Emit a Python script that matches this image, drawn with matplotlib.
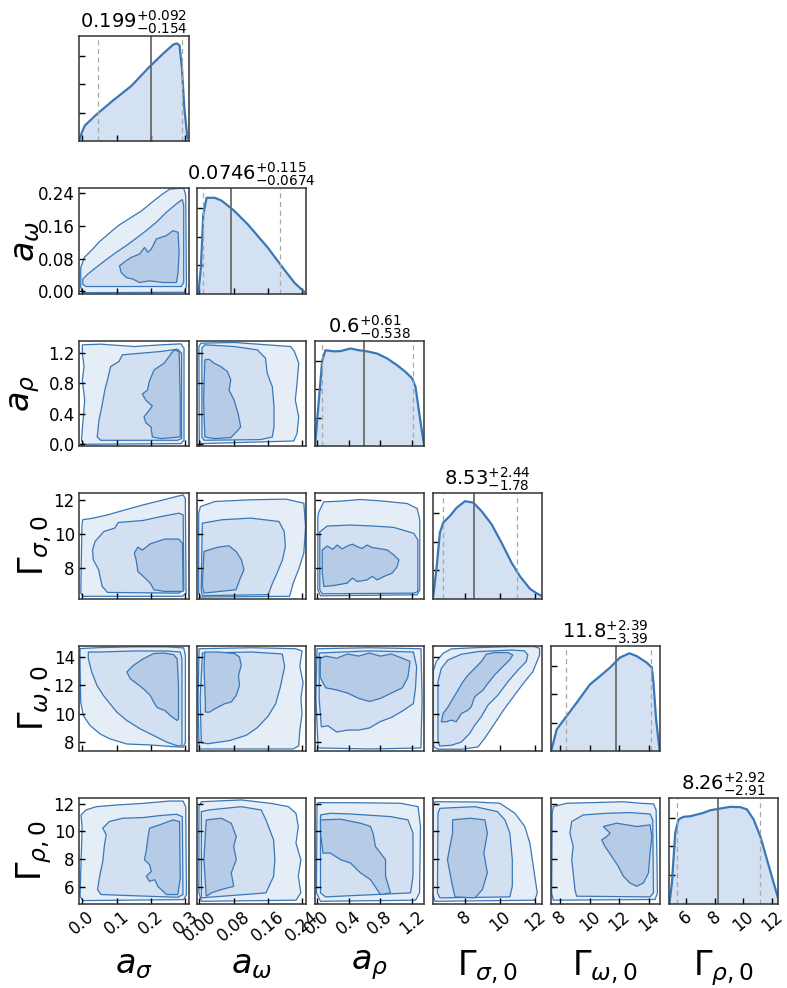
import numpy as np
import matplotlib.pyplot as plt

plt.rcParams['font.family'] = ['DejaVu Sans']
plt.rcParams['mathtext.fontset'] = 'dejavusans'

# parameter names, plot ranges and ticks
labels = [r'$a_\sigma$', r'$a_\omega$', r'$a_\rho$',
          r'$\Gamma_{\sigma,0}$', r'$\Gamma_{\omega,0}$', r'$\Gamma_{\rho,0}$']
ranges = [(-0.009, 0.309), (-0.006, 0.251), (-0.026, 1.358),
          (6.18, 12.41), (7.36, 14.78), (4.77, 12.43)]
ticks = [[0.0, 0.1, 0.2, 0.3], [0.0, 0.08, 0.16, 0.24], [0.0, 0.4, 0.8, 1.2],
         [8, 10, 12], [8, 10, 12, 14], [6, 8, 10, 12]]
tick_labels = [['0.0', '0.1', '0.2', '0.3'], ['0.00', '0.08', '0.16', '0.24'],
               ['0.0', '0.4', '0.8', '1.2'], ['8', '10', '12'],
               ['8', '10', '12', '14'], ['6', '8', '10', '12']]

# median and 68% interval of each marginal
medians = [0.199, 0.0746, 0.6, 8.53, 11.8, 8.26]
err_hi = [0.092, 0.115, 0.61, 2.44, 2.39, 2.92]
err_lo = [0.154, 0.0674, 0.538, 1.78, 3.39, 2.91]

# 1D marginal densities (arbitrary units)
as_x = [-0.009, -0.002, 0.008, 0.042, 0.090, 0.144, 0.194, 0.236, 0.265, 0.275, 0.283, 0.290, 0.297, 0.306]
as_p = [0, 0.28, 0.56, 0.95, 1.44, 1.96, 2.60, 3.09, 3.40, 3.44, 3.37, 2.56, 1.16, 0.11]
aw_x = [-0.0027, 0.0033, 0.0089, 0.0167, 0.036, 0.052, 0.0805, 0.114, 0.161, 0.196, 0.223, 0.246]
aw_p = [0, 0.91, 2.77, 3.37, 3.37, 3.27, 2.93, 2.43, 1.61, 0.91, 0.39, 0.07]
ar_x = [-0.026, -0.017, 0.025, 0.068, 0.109, 0.214, 0.299, 0.425, 0.53, 0.636, 0.763, 0.889,
        1.016, 1.12, 1.205, 1.247, 1.289, 1.332, 1.358]
ar_p = [0, 0.21, 1.61, 3.02, 3.37, 3.33, 3.34, 3.43, 3.37, 3.33, 3.25, 3.08,
        2.84, 2.61, 2.38, 2.08, 1.26, 0.45, 0]
gs_x = [6.21, 6.41, 6.59, 6.78, 7.16, 7.54, 8.02, 8.49, 8.96, 9.53, 10.1, 10.67, 11.14, 11.71, 12.09, 12.41]
gs_p = [0.09, 1.14, 2.32, 2.67, 2.90, 3.19, 3.42, 3.37, 3.07, 2.61, 1.96, 1.26, 0.79, 0.35, 0.19, 0.09]
gw_x = [7.43, 7.77, 8.45, 9.13, 10.03, 10.71, 11.39, 12.06, 12.7, 13.2, 13.88, 14.22, 14.33, 14.51, 14.74]
gw_p = [0.06, 0.76, 1.23, 1.70, 2.34, 2.63, 2.93, 3.28, 3.43, 3.33, 3.10, 2.93, 2.40, 1.11, 0.06]
gr_x = [4.84, 5.01, 5.24, 5.47, 5.82, 6.29, 6.76, 7.22, 7.69, 8.39, 9.09, 9.79, 10.26, 10.72,
        11.19, 11.66, 12.12, 12.43]
gr_p = [0.02, 0.73, 2.48, 2.95, 3.04, 3.06, 3.12, 3.18, 3.27, 3.33, 3.39, 3.38, 3.30, 2.95,
        2.36, 1.54, 0.73, 0.20]

# 2D credible-region outlines [outer, middle, inner], each a list of (x, y)
aw_as = [
    [(-0.004, 0.009), (-0.004, 0.058), (0.0066, 0.083), (0.026, 0.099), (0.050, 0.121), (0.079, 0.142),
     (0.108, 0.162), (0.138, 0.178), (0.172, 0.196), (0.201, 0.216), (0.230, 0.235), (0.254, 0.249),
     (0.295, 0.252), (0.301, 0.234), (0.303, 0.013), (0.297, -0.002), (0.002, -0.003)],
    [(0.002, 0.030), (0.0163, 0.0421), (0.0406, 0.0584), (0.0697, 0.0772), (0.0989, 0.0952), (0.128, 0.1115),
     (0.157, 0.1295), (0.186, 0.148), (0.216, 0.169), (0.245, 0.193), (0.274, 0.2135), (0.291, 0.224),
     (0.295, 0.2094), (0.295, 0.0217), (0.288, 0.012), (0.0114, 0.012), (0.002, 0.0177)],
    [(0.1086, 0.0625), (0.128, 0.0748), (0.1426, 0.083), (0.167, 0.091), (0.1815, 0.1074), (0.1912, 0.0952),
     (0.201, 0.1033), (0.2155, 0.1278), (0.2447, 0.136), (0.264, 0.148), (0.2787, 0.144), (0.2816, 0.0952),
     (0.2787, 0.0462), (0.274, 0.0217), (0.235, 0.0217), (0.196, 0.0258), (0.167, 0.0217), (0.1475, 0.0299),
     (0.128, 0.034), (0.1135, 0.0462)],
]
ar_as = [
    [(0.0007, 1.305), (0.054, 1.314), (0.151, 1.283), (0.229, 1.305), (0.287, 1.318), (0.296, 1.261),
     (0.296, 0.053), (0.287, 0.009), (0.0056, 0.0004), (-0.002, 0.053), (0.0036, 0.361), (0.0075, 0.580),
     (0.0007, 0.844), (0.0056, 1.02), (0.0007, 1.195)],
    [(0.117, 1.174), (0.170, 1.195), (0.229, 1.218), (0.277, 1.248), (0.289, 1.195), (0.289, 0.075),
     (0.277, 0.053), (0.054, 0.053), (0.044, 0.097), (0.049, 0.317), (0.059, 0.536), (0.066, 0.712),
     (0.0735, 0.844), (0.083, 1.02), (0.107, 1.086)],
    [(0.195, 0.822), (0.209, 0.976), (0.238, 1.064), (0.267, 1.239), (0.282, 1.217), (0.285, 0.580),
     (0.285, 0.097), (0.229, 0.075), (0.204, 0.097), (0.200, 0.229), (0.185, 0.282), (0.180, 0.361),
     (0.195, 0.449), (0.204, 0.501), (0.185, 0.580), (0.175, 0.659), (0.190, 0.712)],
]
ar_aw = [
    [(0.0033, 1.327), (0.0812, 1.336), (0.159, 1.305), (0.214, 1.283), (0.223, 1.217), (0.233, 1.064),
     (0.229, 0.800), (0.225, 0.580), (0.233, 0.361), (0.229, 0.141), (0.2215, 0.044), (0.0033, 0.009),
     (-0.0005, 0.053), (-0.0013, 1.283)],
    [(0.0127, 1.305), (0.0812, 1.283), (0.136, 1.239), (0.155, 1.13), (0.159, 0.932), (0.171, 0.756),
     (0.175, 0.492), (0.175, 0.229), (0.171, 0.097), (0.1436, 0.062), (0.0111, 0.053), (0.0057, 0.097),
     (0.0057, 1.261)],
    [(0.0127, 1.108), (0.0228, 1.116), (0.0345, 1.064), (0.050, 1.02), (0.0657, 0.954), (0.0735, 0.844),
     (0.0696, 0.712), (0.0812, 0.580), (0.0906, 0.405), (0.0968, 0.229), (0.089, 0.176), (0.0735, 0.088),
     (0.0345, 0.075), (0.0127, 0.097), (0.0096, 0.580)],
]
gs_as = [
    [(0.0014, 10.84), (0.0324, 10.94), (0.0739, 11.13), (0.1257, 11.43), (0.1775, 11.72), (0.229, 11.98),
     (0.281, 12.25), (0.2935, 12.31), (0.2997, 12.11), (0.302, 6.51), (0.2914, 6.32), (0.0014, 6.32),
     (-0.0038, 6.51), (-0.0007, 10.44)],
    [(0.0376, 9.56), (0.0635, 10.15), (0.0946, 10.35), (0.105, 10.68), (0.1775, 10.80), (0.229, 11.03),
     (0.281, 11.23), (0.2935, 11.13), (0.2956, 6.71), (0.281, 6.51), (0.0739, 6.55), (0.0583, 6.91),
     (0.048, 7.89), (0.0324, 8.48), (0.0304, 9.07)],
    [(0.162, 9.23), (0.175, 9.05), (0.198, 9.42), (0.240, 9.70), (0.281, 9.70), (0.2914, 9.46), (0.2935, 6.61),
     (0.240, 6.61), (0.2086, 6.71), (0.198, 7.10), (0.1775, 7.50), (0.162, 7.79), (0.1568, 8.48),
     (0.1516, 8.87)],
]
gs_aw = [
    [(0.0024, 11.62), (0.0359, 11.92), (0.1196, 12.02), (0.203, 12.06), (0.245, 11.82), (0.249, 10.44),
     (0.245, 8.87), (0.2325, 7.89), (0.220, 7.10), (0.2116, 6.32), (0.0024, 6.28), (-0.0018, 6.51),
     (-0.0018, 11.23)],
    [(0.0066, 10.64), (0.0526, 10.84), (0.1196, 10.94), (0.1865, 10.74), (0.199, 10.15), (0.2016, 9.27),
     (0.195, 8.48), (0.182, 7.69), (0.170, 7.01), (0.1614, 6.42), (0.0066, 6.36), (0.004, 6.71)],
    [(0.0107, 8.97), (0.0442, 9.23), (0.0693, 9.30), (0.086, 8.97), (0.0986, 8.48), (0.1045, 7.89),
     (0.0944, 7.30), (0.086, 6.71), (0.0107, 6.51), (0.0066, 6.91)],
]
gs_ar = [
    [(0.025, 11.31), (0.088, 11.90), (0.299, 11.94), (0.552, 12.04), (0.846, 11.94), (1.142, 11.80),
     (1.268, 11.51), (1.301, 10.82), (1.301, 6.70), (1.268, 6.41), (0.046, 6.35), (0.012, 6.70),
     (0.012, 11.02)],
    [(0.037, 10.13), (0.131, 10.47), (0.425, 10.53), (0.72, 10.47), (0.973, 10.39), (1.226, 10.04),
     (1.276, 9.65), (1.276, 6.60), (1.226, 6.51), (0.068, 6.47), (0.037, 6.70)],
    [(0.068, 9.06), (0.131, 9.29), (0.20, 9.10), (0.257, 9.35), (0.32, 9.12), (0.384, 9.29), (0.45, 9.40),
     (0.51, 9.25), (0.57, 9.15), (0.636, 9.35), (0.70, 9.20), (0.763, 9.16), (0.889, 9.06), (0.973, 8.76),
     (1.036, 8.47), (1.016, 8.08), (0.952, 7.69), (0.846, 7.49), (0.763, 7.29), (0.70, 7.50), (0.636, 7.29),
     (0.51, 7.19), (0.45, 7.40), (0.384, 7.10), (0.214, 6.96), (0.088, 6.90), (0.068, 7.69)],
]
gw_as = [
    [(-0.006, 14.57), (0.052, 14.64), (0.149, 14.69), (0.247, 14.69), (0.295, 14.62), (0.300, 14.10),
     (0.300, 7.98), (0.293, 7.63), (0.266, 7.67), (0.198, 7.79), (0.130, 7.86), (0.081, 8.22),
     (0.052, 8.57), (0.023, 9.16), (0.0035, 9.86), (-0.004, 10.81), (-0.006, 13.39)],
    [(0.018, 14.33), (0.052, 14.33), (0.149, 14.40), (0.247, 14.40), (0.285, 14.33), (0.290, 13.86),
     (0.290, 7.74), (0.276, 7.74), (0.247, 7.98), (0.208, 8.45), (0.169, 8.92), (0.130, 9.51),
     (0.101, 10.10), (0.081, 10.69), (0.062, 11.27), (0.043, 11.98), (0.028, 12.92), (0.018, 13.86)],
    [(0.130, 12.92), (0.149, 13.39), (0.178, 13.86), (0.208, 14.22), (0.237, 14.26), (0.266, 14.14),
     (0.276, 13.86), (0.280, 12.0), (0.280, 9.63), (0.276, 9.51), (0.256, 9.86), (0.241, 10.21),
     (0.227, 10.33), (0.217, 10.45), (0.208, 10.81), (0.198, 11.27), (0.178, 11.75), (0.159, 12.10),
     (0.140, 12.45)],
]
gw_aw = [
    [(-0.0009, 14.56), (0.1225, 14.63), (0.2253, 14.56), (0.2407, 14.41), (0.2356, 13.30), (0.2433, 12.18),
     (0.2382, 11.07), (0.2407, 9.96), (0.2356, 8.84), (0.233, 7.73), (0.2202, 7.51), (-0.0009, 7.51),
     (-0.0034, 11.07)],
    [(0.0069, 14.26), (0.1225, 14.33), (0.1945, 14.19), (0.2, 13.3), (0.1893, 11.81), (0.179, 10.70),
     (0.161, 9.81), (0.135, 8.99), (0.1097, 8.47), (0.0711, 8.10), (0.0197, 7.88), (0.0043, 7.95),
     (0.0017, 11.07)],
    [(0.0122, 14.33), (0.0435, 14.33), (0.0823, 14.22), (0.094, 13.98), (0.098, 13.39), (0.0917, 12.69),
     (0.094, 11.98), (0.0863, 11.27), (0.0746, 10.81), (0.059, 10.69), (0.0435, 10.45), (0.0356, 10.33),
     (0.024, 10.10), (0.0139, 10.10), (0.0139, 10.81), (0.0108, 13.16)],
]
gw_ar = [
    [(0.002, 14.56), (0.666, 14.63), (1.316, 14.56), (1.33, 11.07), (1.316, 7.58), (0.666, 7.51),
     (0.016, 7.58), (-0.012, 11.07)],
    [(0.029, 14.26), (0.666, 14.41), (1.22, 14.33), (1.261, 13.30), (1.247, 11.81), (1.22, 10.70),
     (1.081, 10.18), (0.943, 9.73), (0.804, 9.44), (0.666, 8.99), (0.528, 8.84), (0.389, 8.84),
     (0.251, 8.70), (0.14, 9.14), (0.057, 9.07), (0.029, 11.07)],
    [(0.043, 13.89), (0.112, 14.04), (0.251, 13.89), (0.389, 14.19), (0.528, 14.04), (0.666, 14.26),
     (0.804, 14.04), (0.943, 14.19), (1.081, 13.89), (1.178, 13.67), (1.15, 12.55), (1.081, 11.81),
     (0.943, 11.44), (0.804, 11.07), (0.666, 10.85), (0.528, 11.07), (0.389, 11.44), (0.251, 11.66),
     (0.112, 11.81), (0.043, 12.55)],
]
gw_gs = [
    [(6.20, 8.0), (6.20, 12.95), (6.38, 13.65), (6.77, 14.24), (7.24, 14.55), (8.75, 14.64), (10.65, 14.71),
     (11.98, 14.71), (12.26, 14.59), (12.26, 14.12), (11.88, 12.95), (11.41, 12.24), (10.84, 11.30),
     (10.27, 10.35), (9.89, 9.65), (9.51, 8.94), (9.13, 8.24), (8.75, 7.65), (7.81, 7.49), (6.48, 7.49),
     (6.25, 7.65)],
    [(6.48, 8.0), (6.48, 12.24), (6.67, 13.18), (7.05, 13.77), (7.81, 14.17), (8.75, 14.36), (9.70, 14.41),
     (10.65, 14.47), (11.41, 14.41), (11.59, 14.12), (11.50, 13.65), (11.03, 13.06), (10.46, 12.24),
     (9.89, 11.30), (9.32, 10.59), (8.94, 9.77), (8.57, 9.18), (8.28, 8.59), (7.81, 8.0), (7.24, 7.77),
     (6.58, 7.72)],
    [(6.67, 9.42), (6.77, 10.0), (7.05, 10.47), (7.33, 11.06), (7.62, 11.65), (7.90, 12.24), (8.19, 12.71),
     (8.57, 13.18), (8.94, 13.65), (9.23, 14.17), (9.70, 14.29), (10.46, 14.29), (10.74, 14.12),
     (10.55, 13.77), (10.17, 13.30), (9.70, 12.71), (9.32, 12.12), (9.04, 11.65), (8.57, 11.18),
     (8.37, 10.47), (8.19, 10.24), (7.81, 10.0), (7.52, 9.42), (7.24, 9.54), (6.95, 9.42)],
]
gr_as = [
    [(-0.003, 11.20), (0.011, 11.56), (0.041, 11.80), (0.099, 11.92), (0.177, 12.04), (0.254, 12.21),
     (0.293, 12.21), (0.301, 11.80), (0.303, 5.42), (0.295, 5.05), (0.002, 4.98), (-0.006, 5.30),
     (-0.003, 7.83), (0.0, 10.24)],
    [(0.060, 10.24), (0.079, 10.72), (0.118, 10.96), (0.177, 11.01), (0.225, 11.15), (0.274, 11.25),
     (0.291, 11.08), (0.293, 5.42), (0.278, 5.22), (0.055, 5.42), (0.045, 5.78), (0.050, 6.62),
     (0.060, 7.83), (0.065, 9.03), (0.070, 9.76)],
    [(0.196, 10.24), (0.225, 10.48), (0.264, 10.84), (0.283, 10.72), (0.285, 6.62), (0.278, 5.42),
     (0.245, 5.42), (0.220, 6.02), (0.211, 6.50), (0.196, 6.38), (0.186, 6.74), (0.201, 7.10),
     (0.196, 7.59), (0.181, 7.95), (0.186, 8.55), (0.191, 9.52)],
]
gr_aw = [
    [(0.0045, 12.16), (0.098, 12.29), (0.168, 12.04), (0.209, 11.80), (0.2265, 11.32), (0.232, 10.36),
     (0.2265, 9.15), (0.238, 7.95), (0.232, 6.74), (0.238, 5.54), (0.2265, 5.01), (0.0045, 4.93),
     (-0.0013, 5.54), (-0.0013, 11.80)],
    [(0.022, 11.56), (0.098, 11.80), (0.145, 11.56), (0.156, 10.84), (0.174, 9.39), (0.177, 7.95),
     (0.174, 6.74), (0.156, 5.54), (0.0045, 5.18), (0.0045, 11.44)],
    [(0.016, 10.84), (0.0512, 10.96), (0.0746, 10.60), (0.0863, 9.63), (0.0804, 8.91), (0.0863, 7.95),
     (0.0746, 6.99), (0.0804, 6.02), (0.0512, 5.78), (0.0279, 5.54), (0.016, 5.30), (0.0104, 7.95)],
]
gr_ar = [
    [(0.015, 12.09), (0.425, 12.09), (1.057, 12.05), (1.279, 11.80), (1.310, 10.36), (1.298, 5.54),
     (1.247, 5.01), (0.046, 4.93), (-0.005, 5.54), (0.002, 11.80)],
    [(0.046, 11.20), (0.172, 11.32), (0.425, 11.27), (0.931, 11.08), (1.152, 10.84), (1.215, 9.88),
     (1.215, 6.74), (1.184, 5.54), (0.109, 5.25), (0.046, 5.54)],
    [(0.046, 10.84), (0.299, 10.89), (0.552, 10.60), (0.678, 10.36), (0.710, 9.88), (0.741, 8.91),
     (0.868, 7.95), (0.868, 6.74), (0.931, 5.54), (0.804, 5.42), (0.678, 6.50), (0.552, 6.99),
     (0.425, 7.71), (0.299, 7.95), (0.172, 8.43), (0.078, 8.43), (0.046, 9.88)],
]
gr_gs = [
    [(6.31, 12.16), (8.58, 12.14), (10.0, 12.05), (10.86, 11.32), (11.42, 10.36), (11.71, 9.15),
     (11.85, 7.95), (11.99, 6.74), (12.13, 5.54), (11.99, 5.01), (6.31, 4.93), (6.17, 5.54), (6.20, 11.80)],
    [(6.59, 11.68), (8.58, 11.80), (9.86, 11.44), (10.29, 10.84), (10.57, 9.88), (10.71, 7.95),
     (10.71, 6.02), (10.57, 5.25), (6.59, 5.18), (6.45, 5.54), (6.48, 11.32)],
    [(7.31, 10.84), (8.30, 10.96), (9.15, 10.84), (9.29, 9.88), (9.09, 8.43), (9.29, 6.99), (9.01, 5.78),
     (8.58, 5.18), (7.45, 5.25), (7.31, 6.02), (7.16, 6.99), (7.02, 7.95), (7.16, 8.91), (7.31, 9.88)],
]
gr_gw = [
    [(7.54, 11.80), (8.45, 12.05), (10.03, 12.09), (12.29, 12.16), (13.42, 12.05), (14.33, 12.0),
     (14.51, 11.56), (14.56, 8.43), (14.60, 5.54), (14.44, 5.06), (7.54, 5.01), (7.43, 5.54), (7.47, 11.32)],
    [(8.79, 10.72), (9.57, 11.20), (11.16, 11.32), (12.74, 11.37), (14.10, 11.27), (14.28, 10.84),
     (14.33, 5.54), (14.10, 5.25), (9.12, 5.30), (9.01, 5.78), (8.89, 6.99), (8.79, 7.95), (8.89, 8.91),
     (8.67, 9.88)],
    [(10.93, 10.36), (11.84, 10.60), (12.52, 10.48), (13.20, 10.36), (14.10, 10.48), (14.22, 9.63),
     (14.10, 8.43), (13.99, 6.99), (13.65, 6.26), (13.20, 6.02), (12.74, 6.26), (12.29, 6.74),
     (11.95, 7.46), (11.50, 8.19), (11.05, 8.91), (10.82, 9.39), (11.16, 9.63), (11.39, 9.88)],
]

marginals = [(as_x, as_p), (aw_x, aw_p), (ar_x, ar_p), (gs_x, gs_p), (gw_x, gw_p), (gr_x, gr_p)]
regions = {
    (1, 0): aw_as,
    (2, 0): ar_as, (2, 1): ar_aw,
    (3, 0): gs_as, (3, 1): gs_aw, (3, 2): gs_ar,
    (4, 0): gw_as, (4, 1): gw_aw, (4, 2): gw_ar, (4, 3): gw_gs,
    (5, 0): gr_as, (5, 1): gr_aw, (5, 2): gr_ar, (5, 3): gr_gs, (5, 4): gr_gw,
}

line_c = '#3a77b7'
fills = ['#e5edf7', '#d2e0f1', '#b6cbe6']
hist_fill = '#d4e1f2'

W, H = 787, 988
fig = plt.figure(figsize=(W / 100, H / 100), dpi=100)
n = len(labels)


def add_panel(row, col):
    left = 79 + 117.9 * col
    top = 36 + 152.4 * row
    return fig.add_axes([left / W, 1 - (top + 105.5) / H, 109.5 / W, 105.5 / H])


for i in range(n):
    for j in range(i + 1):
        ax = add_panel(i, j)
        if i == j:
            x, p = marginals[i]
            ax.fill_between(x, p, color=hist_fill, lw=0)
            ax.plot(x, p, color=line_c, lw=1.6)
            m = medians[i]
            ax.axvline(m, color='#6b6b6b', lw=1.3)
            for q in (m - err_lo[i], m + err_hi[i]):
                ax.axvline(q, color='#a8a8a8', lw=0.9, ls=(0, (4, 3)))
            ax.set_ylim(0, 3.7)
            ax.set_yticks([1, 2, 3])
            ax.set_yticklabels([])
            ax.set_title(f'${m}^{{+{err_hi[i]}}}_{{-{err_lo[i]}}}$', fontsize=14, pad=2)
        else:
            for poly, fc in zip(regions[(i, j)], fills):
                px, py = zip(*poly)
                ax.fill(px, py, facecolor=fc, edgecolor=line_c, lw=0.9)
            ax.set_ylim(ranges[i])
            ax.set_yticks(ticks[i])
            if j == 0:
                ax.set_yticklabels(tick_labels[i])
                ax.set_ylabel(labels[i], fontsize=24)
                # the Gamma labels sit a little closer to the axis
                ax.yaxis.set_label_coords(-0.34 if i < 3 else -0.23, 0.5)
            else:
                ax.set_yticklabels([])
        ax.set_xlim(ranges[j])
        ax.set_xticks(ticks[j])
        if i == n - 1:
            ax.set_xticklabels(tick_labels[j], rotation=40)
            ax.set_xlabel(labels[j], fontsize=24)
            ax.xaxis.set_label_coords(0.5, -0.42)
        else:
            ax.set_xticklabels([])
        ax.tick_params(direction='in', length=4, width=1, labelsize=12,
                       top=False, right=False, pad=3)
        for s in ax.spines.values():
            s.set_color('#333333')
            s.set_linewidth(1.1)

fig.savefig('out.png', dpi=100)
